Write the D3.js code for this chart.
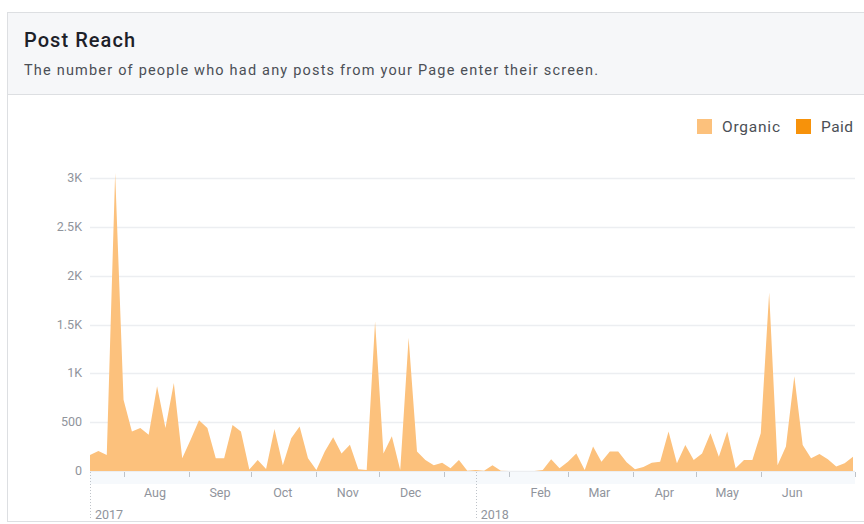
<!DOCTYPE html>
<html>
<head>
<meta charset="utf-8">
<script src="https://cdn.jsdelivr.net/npm/d3@7"></script>
<style>
  body { margin: 0; background: #fff; }
  svg { display: block; }
</style>
</head>
<body>
<script>
// values sampled every 4 days, starting 16 Jul 2017
let startDate = new Date(2017, 6, 16);
let stepDays = 4;
let organic = [
  165, 205, 165, 3050, 730, 405, 440, 370, 867, 440,
  900, 130, 320, 520, 440, 130, 130, 470, 405, 15,
  113, 20, 430, 60, 335, 455, 130, 10, 200, 345,
  180, 270, 17, 10, 1530, 180, 355, 10, 1365, 200,
  113, 60, 85, 27, 113, 3, 10, 3, 60, 3,
  0, 0, 0, 0, 10, 120, 27, 95, 180, 10,
  250, 95, 200, 200, 90, 17, 40, 85, 95, 405,
  80, 267, 113, 180, 387, 147, 405, 27, 113, 113,
  387, 1827, 60, 250, 970, 267, 130, 175, 120, 45,
  80, 147
];
let yTicks = [0, 500, 1000, 1500, 2000, 2500, 3000];
let yTickLabels = ["0", "500", "1K", "1.5K", "2K", "2.5K", "3K"];
let monthTicks = ["2017-08-01", "2017-09-01", "2017-10-01", "2017-11-01", "2017-12-01",
                  "2018-01-01", "2018-02-01", "2018-03-01", "2018-04-01", "2018-05-01", "2018-06-01"];
let monthLabels = ["Aug", "Sep", "Oct", "Nov", "Dec", "", "Feb", "Mar", "Apr", "May", "Jun"];
let yearMarks = ["2017-07-16", "2018-01-16"];
let yearLabels = ["2017", "2018"];
let legendNames = ["Organic", "Paid"];
let legendColors = ["#fcc17c", "#f7920a"];

let parse = d3.timeParse("%Y-%m-%d");
let font = "Roboto, 'Helvetica Neue', Arial, sans-serif";

let canvas = d3.select("body")
            .append("svg")
            .attr("width", 864)
            .attr("height", 524)
            .style("font-family", font);

// card
canvas.append("rect")
      .attr("x", 7.5).attr("y", 12.5)
      .attr("width", 870).attr("height", 509)
      .attr("fill", "#fff")
      .attr("stroke", "#dddfe2");
canvas.append("rect")
      .attr("x", 8).attr("y", 13)
      .attr("width", 860).attr("height", 81)
      .attr("fill", "#f6f7f9");
canvas.append("line")
      .attr("x1", 8).attr("x2", 864)
      .attr("y1", 94.5).attr("y2", 94.5)
      .attr("stroke", "#dddfe2");

canvas.append("text")
      .attr("x", 24).attr("y", 47)
      .attr("fill", "#1d2129")
      .attr("font-size", 20)
      .attr("font-weight", 500)
      .attr("textLength", 111)
      .attr("lengthAdjust", "spacing")
      .text("Post Reach");
canvas.append("text")
      .attr("x", 24).attr("y", 75)
      .attr("fill", "#4b4f56")
      .attr("font-size", 14.5)
      .attr("textLength", 574)
      .attr("lengthAdjust", "spacing")
      .text("The number of people who had any posts from your Page enter their screen.");

// scales
let dates = organic.map((v, i) => d3.timeDay.offset(startDate, i * stepDays));
let x = d3.scaleTime()
          .domain([dates[0], dates[dates.length - 1]])
          .range([90, 853]);
let y = d3.scaleLinear()
          .domain([0, 3000])
          .range([471, 178]);

// grid + y labels
let grid = canvas.append("g");
grid.selectAll("line")
    .data(yTicks)
    .join("line")
    .attr("x1", 90).attr("x2", 855)
    .attr("y1", d => Math.round(y(d)) + 0.5)
    .attr("y2", d => Math.round(y(d)) + 0.5)
    .attr("stroke", "#eceef1")
    .attr("stroke-width", 1.5);
grid.selectAll("text")
    .data(yTicks)
    .join("text")
    .attr("x", 82)
    .attr("y", d => y(d) + 4)
    .attr("text-anchor", "end")
    .attr("fill", "#90949c")
    .attr("font-size", 12.5)
    .text((d, i) => yTickLabels[i]);

// axis band
canvas.append("rect")
      .attr("x", 90).attr("y", 472)
      .attr("width", 765).attr("height", 12)
      .attr("fill", "#f6f9fc");

// area
let area = d3.area()
             .x((d, i) => x(dates[i]))
             .y0(y(0))
             .y1(d => y(d));
canvas.append("path")
      .datum(organic)
      .attr("d", area)
      .attr("fill", legendColors[0]);

// x axis ticks
let mt = monthTicks.map(parse);
canvas.append("g")
      .selectAll("line")
      .data(mt)
      .join("line")
      .attr("x1", d => Math.round(x(d)) + 0.5)
      .attr("x2", d => Math.round(x(d)) + 0.5)
      .attr("y1", 472).attr("y2", 477)
      .attr("stroke", "#bec3c9");
canvas.append("line")
      .attr("x1", 855.5).attr("x2", 855.5)
      .attr("y1", 472).attr("y2", 477)
      .attr("stroke", "#bec3c9");
canvas.append("g")
      .selectAll("text")
      .data(mt)
      .join("text")
      .attr("x", d => x(new Date(d.getFullYear(), d.getMonth(), 16)))
      .attr("y", 497)
      .attr("text-anchor", "middle")
      .attr("fill", "#90949c")
      .attr("font-size", 12.5)
      .text((d, i) => monthLabels[i]);

// year markers
let ym = yearMarks.map(parse);
let years = canvas.append("g");
years.selectAll("line")
     .data(ym)
     .join("line")
     .attr("x1", d => Math.round(x(d)) + 0.5)
     .attr("x2", d => Math.round(x(d)) + 0.5)
     .attr("y1", 472).attr("y2", 518)
     .attr("stroke", "#bec3c9")
     .attr("stroke-dasharray", "1,2");
years.selectAll("text")
     .data(ym)
     .join("text")
     .attr("x", d => x(d) + 5)
     .attr("y", 519)
     .attr("fill", "#90949c")
     .attr("font-size", 12.5)
     .text((d, i) => yearLabels[i]);

// legend
let legendX = [697, 796];
let legendW = [58, 32];
let legend = canvas.append("g");
legendNames.forEach((name, i) => {
    legend.append("rect")
          .attr("x", legendX[i]).attr("y", 119)
          .attr("width", 15).attr("height", 15)
          .attr("fill", legendColors[i]);
    legend.append("text")
          .attr("x", legendX[i] + 25).attr("y", 132)
          .attr("fill", "#4b4f56")
          .attr("font-size", 15.5)
          .attr("textLength", legendW[i])
          .attr("lengthAdjust", "spacing")
          .text(name);
});
</script>
</body>
</html>
